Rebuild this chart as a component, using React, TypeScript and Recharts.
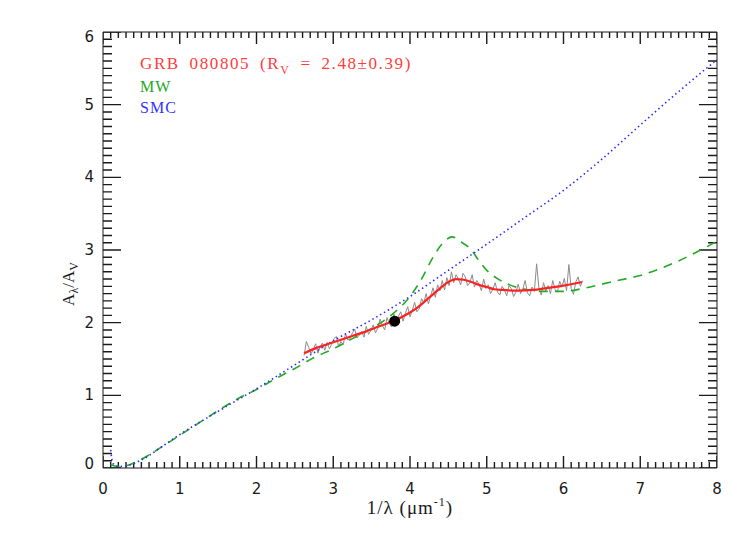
import { ComposedChart, Line, XAxis, YAxis } from "recharts";

// SMC extinction curve (blue dotted)
const SMC_X = [0.1, 0.13, 0.2, 0.3, 0.5, 0.75, 1.0, 1.5, 2.0, 2.5, 3.0, 3.5, 4.0, 4.5, 5.0, 5.5, 6.0, 6.5, 7.0, 7.5, 8.0];
const SMC_Y = [0.25, 0.06, 0.02, 0.03, 0.11, 0.28, 0.46, 0.78, 1.09, 1.42, 1.75, 2.04, 2.36, 2.72, 3.08, 3.45, 3.82, 4.25, 4.72, 5.18, 5.62];

// MW extinction curve (green dashed)
const MW_X = [0.1, 0.2, 0.3, 0.5, 0.75, 1.0, 1.25, 1.5, 1.75, 2.0, 2.25, 2.5, 2.75, 3.0, 3.25, 3.5, 3.75, 4.0, 4.15, 4.3, 4.45, 4.55, 4.65, 4.8, 4.9, 5.0, 5.15, 5.3, 5.5, 5.75, 6.0, 6.25, 6.5, 6.75, 7.0, 7.25, 7.5, 7.75, 8.0];
const MW_Y = [0.04, 0.02, 0.03, 0.12, 0.28, 0.45, 0.62, 0.79, 0.95, 1.08, 1.23, 1.37, 1.52, 1.64, 1.78, 1.92, 2.1, 2.36, 2.6, 2.9, 3.12, 3.18, 3.12, 3.0, 2.85, 2.72, 2.6, 2.52, 2.46, 2.43, 2.43, 2.47, 2.53, 2.59, 2.65, 2.74, 2.85, 2.98, 3.12];

// best fit to GRB 080805 (red)
const FIT_X = [2.62, 2.8, 3.0, 3.2, 3.4, 3.6, 3.8, 4.0, 4.1, 4.2, 4.3, 4.4, 4.5, 4.6, 4.7, 4.8, 4.9, 5.0, 5.1, 5.2, 5.4, 5.6, 5.8, 6.0, 6.24];
const FIT_Y = [1.58, 1.66, 1.73, 1.8, 1.87, 1.95, 2.03, 2.14, 2.21, 2.3, 2.39, 2.48, 2.56, 2.6, 2.59, 2.56, 2.52, 2.49, 2.46, 2.45, 2.44, 2.45, 2.48, 2.51, 2.56];

// observed spectrum (grey), sampled from 2.62 in steps of 0.03
const SPEC_START = 2.62;
const SPEC_STEP = 0.03;
const SPEC_Y = [
  1.55, 1.74, 1.66, 1.57, 1.63, 1.71, 1.58, 1.67, 1.72, 1.62,
  1.73, 1.64, 1.7, 1.78, 1.81, 1.67, 1.74, 1.7, 1.85, 1.76,
  1.78, 1.86, 1.91, 1.79, 1.83, 1.88, 1.8, 1.95, 1.84, 1.89,
  1.97, 1.86, 1.92, 2.05, 1.96, 1.9, 2.07, 1.99, 1.94, 2.12,
  1.98, 2.09, 2.15, 2.02, 2.13, 2.22, 2.08, 2.17, 2.28, 2.15,
  2.19, 2.33, 2.27, 2.4, 2.26, 2.37, 2.48, 2.35, 2.52, 2.44,
  2.58, 2.45, 2.62, 2.51, 2.7, 2.55, 2.66, 2.6, 2.52, 2.68,
  2.63, 2.51, 2.55, 2.66, 2.49, 2.58, 2.53, 2.44, 2.6, 2.47,
  2.52, 2.4, 2.46, 2.55, 2.42, 2.38, 2.5, 2.45, 2.37, 2.51,
  2.47, 2.36, 2.42, 2.53, 2.4, 2.46, 2.58, 2.41, 2.37, 2.49,
  2.43, 2.81, 2.47, 2.38, 2.55, 2.44, 2.51, 2.4, 2.58, 2.46,
  2.42, 2.57, 2.49, 2.61, 2.44, 2.8, 2.47, 2.39, 2.56, 2.63,
  2.5, 2.58,
];

// photometric point (black)
const PHOT_X = [3.8];
const PHOT_Y = [2.02];

const X_TICKS = Array.from({ length: 81 }, (_, i) => i / 10);
const Y_TICKS = Array.from({ length: 61 }, (_, i) => i / 10);

const smc = SMC_X.map((x, i) => ({ x, y: SMC_Y[i] }));
const mw = MW_X.map((x, i) => ({ x, y: MW_Y[i] }));
const fit = FIT_X.map((x, i) => ({ x, y: FIT_Y[i] }));
const spec = SPEC_Y.map((y, i) => ({ x: SPEC_START + i * SPEC_STEP, y }));
const phot = PHOT_X.map((x, i) => ({ x, y: PHOT_Y[i] }));

const INK = "#1a1a1a";
const TICK_FONT = "'DejaVu Sans', sans-serif";
const TEXT_FONT = "'Liberation Serif', serif";

const isMajor = (v: number) => Math.abs(v - Math.round(v)) < 1e-6;

// inward tick marks (lengths in axis units: ~12/6 px on x, ~18/9 px on y)
const xLen = (v: number) => (isMajor(v) ? 0.165 : 0.083);
const yLen = (v: number) => (isMajor(v) ? 0.235 : 0.117);
const ticksBottom = X_TICKS.flatMap((v) => [{ x: v, y: 0 }, { x: v, y: xLen(v) }, { x: v, y: null }]);
const ticksTop = X_TICKS.flatMap((v) => [{ x: v, y: 6 }, { x: v, y: 6 - xLen(v) }, { x: v, y: null }]);
const ticksLeft = Y_TICKS.flatMap((v) => [{ x: 0, y: v }, { x: yLen(v), y: v }, { x: yLen(v), y: null }]);
const ticksRight = Y_TICKS.flatMap((v) => [{ x: 8, y: v }, { x: 8 - yLen(v), y: v }, { x: 8 - yLen(v), y: null }]);

const bottomLabel = (p: any) => {
  const { x, y, payload } = p;
  if (!isMajor(payload.value)) return <g key={`b${payload.value}`} />;
  return (
    <text key={`b${payload.value}`} x={x} y={y + 26} textAnchor="middle" fontSize={15} fontFamily={TICK_FONT} fill={INK}>
      {Math.round(payload.value)}
    </text>
  );
};

const leftLabel = (p: any) => {
  const { x, y, payload } = p;
  const v = payload.value;
  if (!isMajor(v)) return <g key={`l${v}`} />;
  const shift = Math.round(v) === 0 ? -4 : Math.round(v) === 6 ? 5 : 0;
  return (
    <text key={`l${v}`} x={x - 9} y={y + shift + 5} textAnchor="end" fontSize={15} fontFamily={TICK_FONT} fill={INK}>
      {Math.round(v)}
    </text>
  );
};

const tickLine = (data: any[], key: string) => (
  <Line key={key} xAxisId="bottom" yAxisId="left" data={data} dataKey="y" type="linear" stroke={INK} strokeWidth={1.4}
    dot={false} activeDot={false} connectNulls={false} isAnimationActive={false} />
);

export default function App() {
  return (
    <div style={{ position: "absolute", left: 0, top: 0, width: 747, height: 534, background: "#fff" }}>
      <ComposedChart width={747} height={534} margin={{ top: 31, right: 29, bottom: 36, left: 63 }}>
        <XAxis xAxisId="bottom" type="number" dataKey="x" domain={[0, 8]} ticks={X_TICKS} interval={0} height={30}
          tickSize={0} tickMargin={0} tickLine={false} tick={bottomLabel} allowDataOverflow stroke={INK} />
        <XAxis xAxisId="top" orientation="top" type="number" dataKey="x" domain={[0, 8]} height={1}
          tickLine={false} tick={false} allowDataOverflow stroke={INK} />
        <YAxis yAxisId="left" type="number" domain={[0, 6]} ticks={Y_TICKS} interval={0} width={40}
          tickSize={0} tickMargin={0} tickLine={false} tick={leftLabel} allowDataOverflow stroke={INK} />
        <YAxis yAxisId="right" orientation="right" type="number" domain={[0, 6]} width={1}
          tickLine={false} tick={false} allowDataOverflow stroke={INK} />

        {/* invisible copy so the top and right axes have a series */}
        <Line xAxisId="top" yAxisId="right" data={smc} dataKey="y" stroke="none" dot={false} activeDot={false} isAnimationActive={false} />

        {tickLine(ticksBottom, "tb")}
        {tickLine(ticksTop, "tt")}
        {tickLine(ticksLeft, "tl")}
        {tickLine(ticksRight, "tr")}

        <Line xAxisId="bottom" yAxisId="left" data={spec} dataKey="y" type="linear" stroke="#8c8c8c" strokeWidth={1} dot={false} isAnimationActive={false} />
        <Line xAxisId="bottom" yAxisId="left" data={mw} dataKey="y" type="monotone" stroke="#22aa22" strokeWidth={1.6} strokeDasharray="9 7" dot={false} isAnimationActive={false} />
        <Line xAxisId="bottom" yAxisId="left" data={smc} dataKey="y" type="monotone" stroke="#2b2bff" strokeWidth={1.6} strokeDasharray="1.5 3" dot={false} isAnimationActive={false} />
        <Line xAxisId="bottom" yAxisId="left" data={fit} dataKey="y" type="monotone" stroke="#ff2222" strokeWidth={2.2} dot={false} isAnimationActive={false} />
        <Line xAxisId="bottom" yAxisId="left" data={phot} dataKey="y" stroke="none" dot={{ r: 5.5, fill: "#000", stroke: "none" }} activeDot={false} isAnimationActive={false} />
      </ComposedChart>

      {/* legend and axis titles */}
      <svg width={747} height={534} style={{ position: "absolute", left: 0, top: 0, pointerEvents: "none" }}>
        <text x={140} y={69} fontSize={17} fontFamily={TEXT_FONT} fill="#ff3b3b" letterSpacing={1.6} wordSpacing={4}>
          GRB 080805 (R<tspan fontSize={12} dy={5}>V</tspan>
          <tspan dy={-5}> = 2.48±0.39)</tspan>
        </text>
        <text x={140} y={92} fontSize={16} fontFamily={TEXT_FONT} fill="#22aa22" letterSpacing={1}>
          MW
        </text>
        <text x={140} y={113} fontSize={16} fontFamily={TEXT_FONT} fill="#3333ff" letterSpacing={1}>
          SMC
        </text>
        <text x={410} y={514} textAnchor="middle" fontSize={19} fontFamily={TEXT_FONT} fill={INK} letterSpacing={1}>
          1/λ (μm<tspan fontSize={12} dy={-8}>-1</tspan>
          <tspan dy={8}>)</tspan>
        </text>
        <text transform="translate(74 284) rotate(-90)" textAnchor="middle" fontSize={17} fontFamily={TEXT_FONT} fill={INK}>
          A<tspan fontSize={12} dy={4}>λ</tspan>
          <tspan dy={-4}>/A</tspan>
          <tspan fontSize={12} dy={4}>V</tspan>
        </text>
      </svg>
    </div>
  );
}
